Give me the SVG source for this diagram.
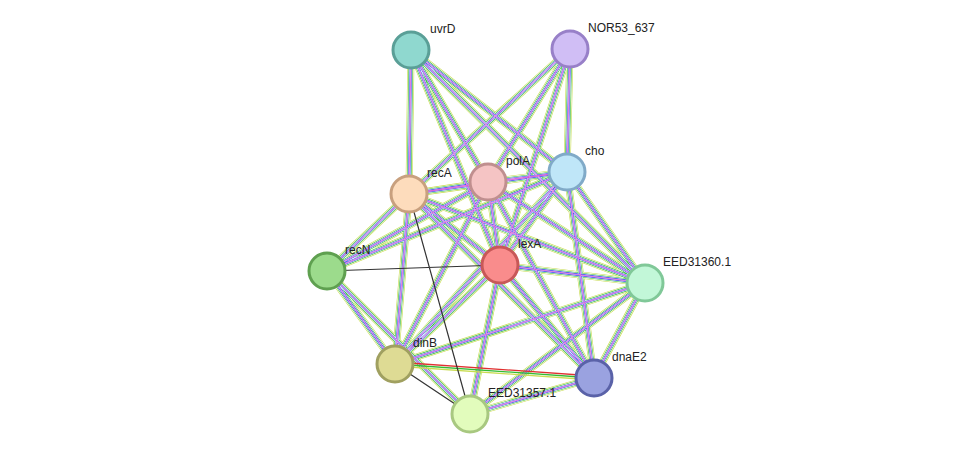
<svg xmlns="http://www.w3.org/2000/svg" xmlns:xlink="http://www.w3.org/1999/xlink" width="976" height="460" viewBox="0 0 976 460">
<style>
.n{stroke-width:3}
text{font-family:"Liberation Sans",Arial,sans-serif;font-size:12px;fill:#222}
</style>
<rect width="976" height="460" fill="#fff"/>
<defs>
<g id="E" fill="none">
<path d="M411 50L409 194M411 50L488 182M411 50L500 265M411 50L567 172M411 50L645 283M570 49L409 194M570 49L488 182M570 49L567 172M570 49L500 265M567 172L488 182M567 172L409 194M567 172L327 271M567 172L500 265M567 172L594 378M567 172L645 283M567 172L395 364M488 182L409 194M488 182L327 271M488 182L500 265M488 182L645 283M488 182L594 378M488 182L395 364M409 194L327 271M409 194L500 265M409 194L395 364M409 194L645 283M409 194L594 378M500 265L645 283M500 265L395 364M500 265L594 378M500 265L470 414M327 271L395 364M327 271L470 414M645 283L594 378M645 283L470 414M645 283L395 364M594 378L470 414"/>
</g>
</defs>
<g id="connectors">
<use href="#E" stroke="#c8dc50" stroke-width="7"/>
<use href="#E" stroke="#fff" stroke-width="5.8"/>
<use href="#E" stroke="#33bb33" stroke-width="4.6"/>
<use href="#E" stroke="#fff" stroke-width="3.4"/>
<use href="#E" stroke="#3344ee" stroke-width="2.3"/>
<use href="#E" stroke="#fff" stroke-width="1.2"/>
<use href="#E" stroke="#d040d0" stroke-width="0.7"/>
<path d="M395 366L594 380" stroke="#c8dc50" stroke-width="1.3"/>
<path d="M395 364L594 378" stroke="#33bb33" stroke-width="1.3"/>
<path d="M395 362L594 376" stroke="#e03030" stroke-width="1.3"/>
<path d="M409 194L470 414M327 271L500 265M395 364L470 414" stroke="#333" stroke-width="1.2" fill="none"/>
</g>
<g id="uvrD"><circle class="n" cx="411" cy="50" r="18" fill="#8fd8cf" stroke="#5a9f97"/><text x="430" y="33">uvrD</text></g>
<g id="NOR53_637"><circle class="n" cx="570" cy="49" r="18" fill="#d0bef5" stroke="#9880c8"/><text x="588" y="32">NOR53_637</text></g>
<g id="cho"><circle class="n" cx="567" cy="172" r="18" fill="#bfe6f8" stroke="#80aac8"/><text x="585" y="155">cho</text></g>
<g id="polA"><circle class="n" cx="488" cy="182" r="18" fill="#f5c4c4" stroke="#c08f8f"/><text x="506" y="165">polA</text></g>
<g id="recA"><circle class="n" cx="409" cy="194" r="18" fill="#fddcbc" stroke="#c8a07e"/><text x="427" y="177">recA</text></g>
<g id="lexA"><circle class="n" cx="500" cy="265" r="18" fill="#f98c8c" stroke="#c85858"/><text x="518" y="248">lexA</text></g>
<g id="recN"><circle class="n" cx="327" cy="271" r="18" fill="#9cdb8c" stroke="#5fa050"/><text x="345" y="254">recN</text></g>
<g id="EED31360.1"><circle class="n" cx="645" cy="283" r="18" fill="#c2f7d8" stroke="#80c898"/><text x="663" y="266">EED31360.1</text></g>
<g id="dinB"><circle class="n" cx="395" cy="364" r="18" fill="#dedb94" stroke="#a0a060"/><text x="413" y="347">dinB</text></g>
<g id="dnaE2"><circle class="n" cx="594" cy="378" r="18" fill="#9aa2e0" stroke="#5a62a8"/><text x="612" y="361">dnaE2</text></g>
<g id="EED31357.1"><circle class="n" cx="470" cy="414" r="18" fill="#e2fcbc" stroke="#a8c880"/><text x="488" y="397">EED31357.1</text></g>
</svg>
